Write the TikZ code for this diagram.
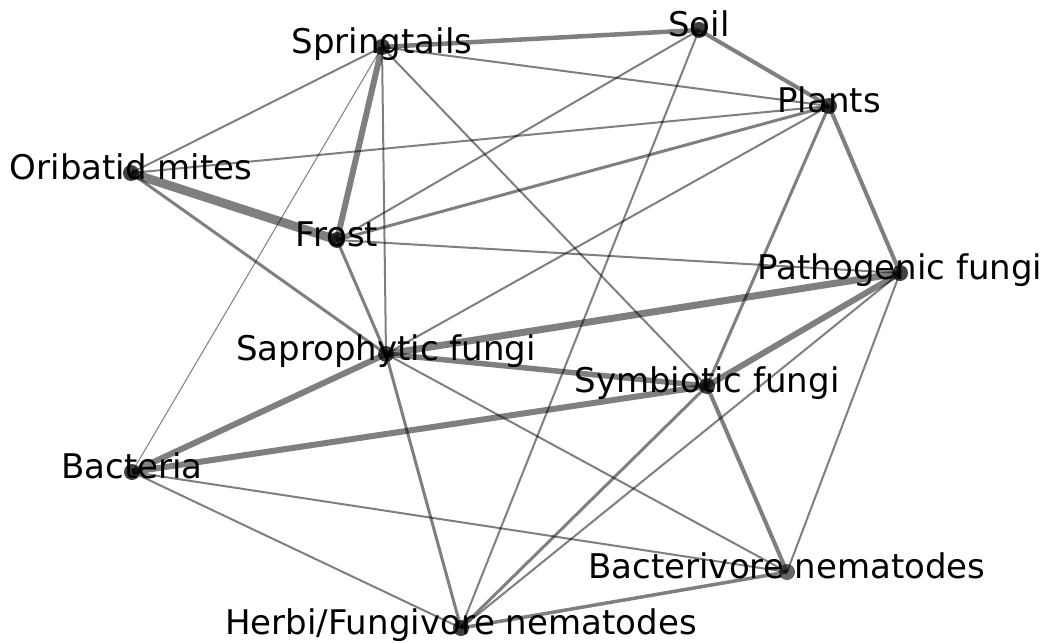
\documentclass[tikz,border=0pt]{standalone}
\usepackage{fontspec}
\setmainfont{DejaVu Sans}
\usepackage{tikz}

\tikzset{
  edge/.style={draw=black, opacity=0.5},
  dot/.style={circle, fill=black, fill opacity=0.75, inner sep=0pt, minimum size=16pt},
  lbl/.style={font=\fontsize{34}{40}\selectfont, inner sep=0pt, text height=0.75em, text depth=0.24em, yshift=-4pt}
}

\begin{document}
\begin{tikzpicture}[x=1pt, y=-1pt]
            \useasboundingbox (0,0) rectangle (1048,644);

            \coordinate (Sp) at (382, 47);
            \coordinate (So) at (699, 30);
            \coordinate (Pl) at (829, 106);
            \coordinate (Or) at (131, 173);
            \coordinate (Fr) at (337, 240);
            \coordinate (Pa) at (900, 273);
            \coordinate (Sa) at (386, 354);
            \coordinate (Sy) at (707, 386);
            \coordinate (Ba) at (132, 472);
            \coordinate (Bn) at (787, 572);
            \coordinate (Hf) at (461, 628);

            % edges, width = strength
            \foreach \a/\b/\w in {Sp/So/4.5, Sp/Pl/2, Sp/Or/2, Sp/Fr/6, Sp/Sa/2, Sp/Sy/2, Sp/Ba/1,
                So/Pl/4, So/Fr/2, So/Hf/2,
                Pl/Or/2, Pl/Fr/3, Pl/Sa/2, Pl/Pa/4, Pl/Sy/3,
                Or/Fr/9, Or/Sa/3, Fr/Pa/2, Fr/Sa/3,
                Pa/Sa/7, Pa/Sy/6, Pa/Hf/2, Pa/Bn/2,
                Sa/Sy/5.5, Sa/Ba/6, Sa/Hf/3, Sa/Bn/2,
                Sy/Ba/6, Sy/Bn/4, Sy/Hf/3,
                Ba/Bn/2, Ba/Hf/2, Hf/Bn/3.5}
                \draw[edge, line width=\w pt] (\a) -- (\b);

            \foreach \n in {Sp, So, Pl, Or, Fr, Pa, Sa, Sy, Ba, Hf}
                \node[dot] at (\n) {};
            \node[dot, fill opacity=0.6] at (Bn) {};

            \node[lbl] (Sp-l) at (Sp) {Springtails};
            \node[lbl] (So-l) at (So) {Soil};
            \node[lbl] (Pl-l) at (Pl) {Plants};
            \node[lbl] (Or-l) at (Or) {Oribatid mites};
            \node[lbl] (Fr-l) at (Fr) {Frost};
            \node[lbl] (Pa-l) at (Pa) {Pathogenic fungi};
            \node[lbl] (Sa-l) at (Sa) {Saprophytic fungi};
            \node[lbl] (Sy-l) at (Sy) {Symbiotic fungi};
            \node[lbl] (Ba-l) at (Ba) {Bacteria};
            \node[lbl] (Bn-l) at (Bn) {Bacterivore nematodes};
            \node[lbl] (Hf-l) at (Hf) {Herbi/Fungivore nematodes};
        \end{tikzpicture}
\end{document}
